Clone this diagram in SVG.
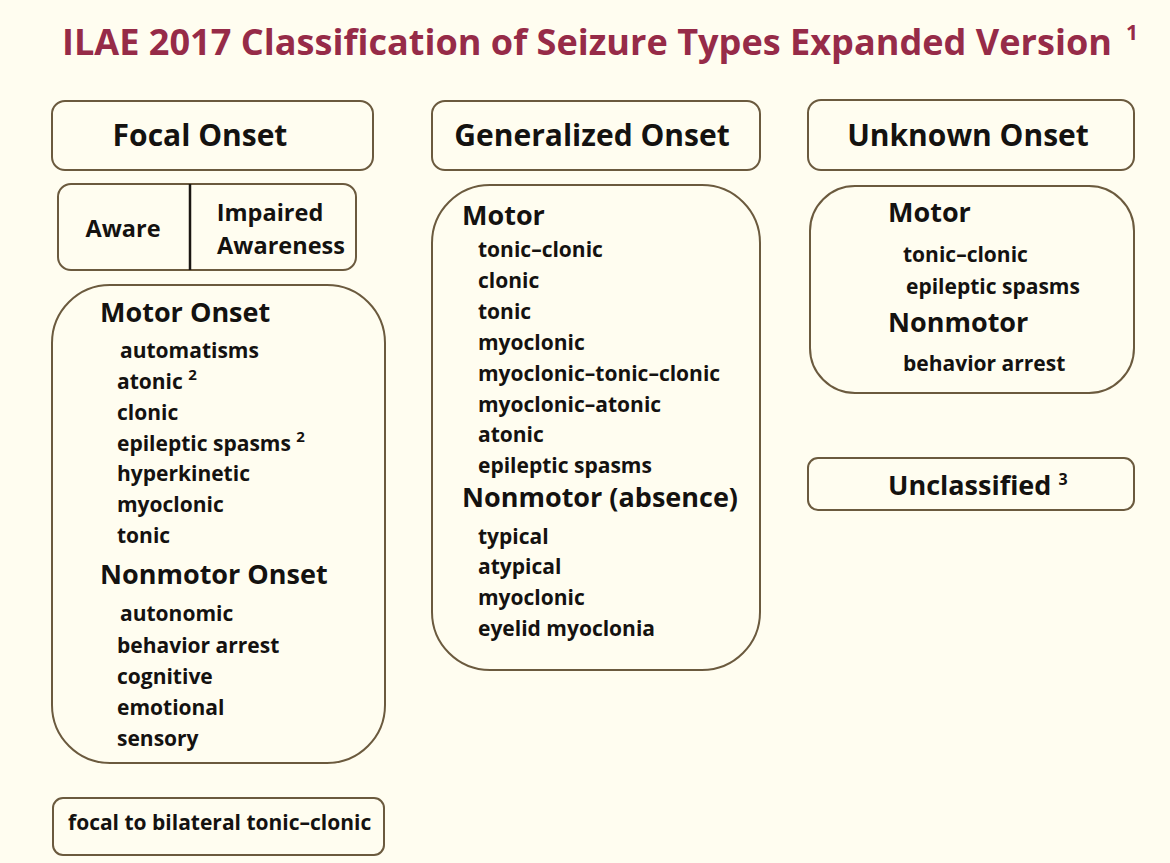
<svg xmlns="http://www.w3.org/2000/svg" width="1170" height="863" viewBox="0 0 1170 863">
<style>
text{font-family:"Open Sans","Liberation Sans",sans-serif;font-weight:700;fill:#141210}
.box{fill:none;stroke:#6b5a3e;stroke-width:2}
.title{fill:#962b48;font-size:36px}
.hd{font-size:30px}
.sub{font-size:27px}
.it{font-size:21px}
.sup{font-size:15px}
</style>
<rect width="1170" height="863" fill="#fffdf0"/>
<text class="title" x="62" y="55" textLength="1050" lengthAdjust="spacingAndGlyphs">ILAE 2017 Classification of Seizure Types Expanded Version</text>
<text class="title" x="1126" y="40" style="font-size:21px">1</text>

<g id="focal-onset">
<rect class="box" x="52" y="101" width="321" height="69" rx="13"/>
<text class="hd" x="200" y="146" text-anchor="middle">Focal Onset</text>
</g>
<g id="awareness">
<rect class="box" x="58" y="184" width="298" height="86" rx="13"/>
<line x1="190" y1="184" x2="190" y2="270" stroke="#1a1612" stroke-width="2.5"/>
<text class="it" style="font-size:23.5px" x="123" y="237" text-anchor="middle">Aware</text>
<text class="it" style="font-size:23.5px" x="270" y="221" text-anchor="middle">Impaired</text>
<text class="it" style="font-size:23.5px" x="281" y="254" text-anchor="middle">Awareness</text>
</g>
<g id="focal-types">
<rect class="box" x="52" y="285" width="333" height="478" rx="58"/>
<text class="sub" x="100" y="322">Motor Onset</text>
<text class="it" x="120" y="358">automatisms</text>
<text class="it" x="117" y="389">atonic <tspan class="sup" dy="-9">2</tspan></text>
<text class="it" x="117" y="420">clonic</text>
<text class="it" x="117" y="451">epileptic spasms <tspan class="sup" dy="-9">2</tspan></text>
<text class="it" x="117" y="481">hyperkinetic</text>
<text class="it" x="117" y="512">myoclonic</text>
<text class="it" x="117" y="543">tonic</text>
<text class="sub" x="100" y="584">Nonmotor Onset</text>
<text class="it" x="120" y="621">autonomic</text>
<text class="it" x="117" y="653">behavior arrest</text>
<text class="it" x="117" y="684">cognitive</text>
<text class="it" x="117" y="715">emotional</text>
<text class="it" x="117" y="746">sensory</text>
</g>
<g id="focal-bilateral">
<rect class="box" x="53" y="798" width="331" height="57" rx="10"/>
<text class="it" x="68" y="830">focal to bilateral tonic–clonic</text>
</g>

<g id="generalized-onset">
<rect class="box" x="432" y="101" width="328" height="69" rx="13"/>
<text class="hd" x="592" y="146" text-anchor="middle">Generalized Onset</text>
</g>
<g id="generalized-types">
<rect class="box" x="432" y="185" width="328" height="485" rx="58"/>
<text class="sub" x="462" y="225">Motor</text>
<text class="it" x="478" y="257">tonic–clonic</text>
<text class="it" x="478" y="288">clonic</text>
<text class="it" x="478" y="319">tonic</text>
<text class="it" x="478" y="350">myoclonic</text>
<text class="it" x="478" y="381">myoclonic–tonic–clonic</text>
<text class="it" x="478" y="412">myoclonic–atonic</text>
<text class="it" x="478" y="442">atonic</text>
<text class="it" x="478" y="473">epileptic spasms</text>
<text class="sub" x="462" y="507">Nonmotor (absence)</text>
<text class="it" x="478" y="544">typical</text>
<text class="it" x="478" y="574">atypical</text>
<text class="it" x="478" y="605">myoclonic</text>
<text class="it" x="478" y="636">eyelid myoclonia</text>
</g>

<g id="unknown-onset">
<rect class="box" x="808" y="100" width="326" height="70" rx="13"/>
<text class="hd" x="968" y="146" text-anchor="middle">Unknown Onset</text>
</g>
<g id="unknown-types">
<rect class="box" x="810" y="186" width="324" height="207" rx="45"/>
<text class="sub" x="888" y="222">Motor</text>
<text class="it" x="903" y="262">tonic–clonic</text>
<text class="it" x="906" y="294">epileptic spasms</text>
<text class="sub" x="888" y="332">Nonmotor</text>
<text class="it" x="903" y="371">behavior arrest</text>
</g>
<g id="unclassified">
<rect class="box" x="808" y="458" width="326" height="52" rx="10"/>
<text class="sub" x="888" y="495">Unclassified <tspan class="sup" style="font-size:16px" dy="-10">3</tspan></text>
</g>
<g id="connectors"></g>
</svg>
